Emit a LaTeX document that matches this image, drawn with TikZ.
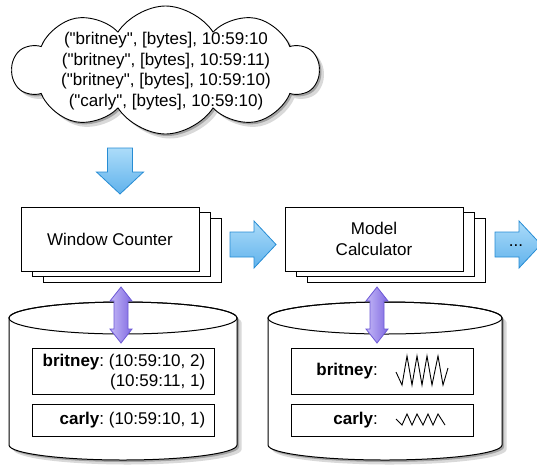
\documentclass[tikz,border=0pt]{standalone}
\usepackage{fontspec}
\newfontfamily\diagfont{Liberation Sans}
\usetikzlibrary{shapes.symbols,% cloud shape
calc,%                  coordinate arithmetic
shadows}%               drop shadows
\definecolor{flowline}{RGB}{38,140,212}
\definecolor{flowtop}{RGB}{172,220,249}
\definecolor{flowbottom}{RGB}{96,178,236}
\definecolor{syncline}{RGB}{108,88,214}
\definecolor{syncleft}{RGB}{196,184,246}
\definecolor{syncright}{RGB}{128,106,226}
\tikzset{every node/.style={font=\diagfont\fontsize{17}{20.5}\selectfont\frenchspacing}}
\tikzset{
  softshadow/.style={drop shadow={shadow xshift=2pt,shadow yshift=-2pt,opacity=0.25,fill=black},
    drop shadow={shadow xshift=4.5pt,shadow yshift=-4.5pt,opacity=0.15,fill=black}},
  srccloud/.style={cloud, cloud puffs=10, cloud puff arc=115, aspect=2.4, draw, fill=white,
    line width=0.9pt, minimum width=306pt, minimum height=128pt, softshadow},
  procbox/.style={draw, fill=white, line width=0.9pt, minimum width=178pt,
    minimum height=64pt, align=center, inner sep=0pt},
  storebox/.style={draw, fill=white, line width=0.9pt, minimum width=182pt},
  keylabel/.style={inner sep=0pt, anchor=east, align=right},
  dbbody/.style={draw, fill=white, line width=1pt, softshadow},
  flowarrow/.style={draw=flowline, line width=0.8pt, top color=flowtop, bottom color=flowbottom},
  syncarrow/.style={draw=syncline, line width=0.8pt, left color=syncleft, right color=syncright}
}
\newcommand{\flowarrow}[2]{% #1 = tail point, #2 = direction
  \begin{scope}[shift={#1},rotate=#2]
    \draw[flowarrow] (0,-12.5) -- (24,-12.5) -- (24,-23.5) -- (46,0) -- (24,23.5)
      -- (24,12.5) -- (0,12.5) -- cycle;
  \end{scope}}
\newcommand{\syncarrow}[1]{% #1 = upper tip
  \begin{scope}[shift={#1}]
    \draw[syncarrow] (0,0) -- (11,14) -- (7,14) -- (7,42) -- (11,42) -- (0,56)
      -- (-11,42) -- (-7,42) -- (-7,14) -- (-11,14) -- cycle;
  \end{scope}}
\begin{document}
\begin{tikzpicture}[x=1pt,y=-1pt]
  \useasboundingbox (0,0) rectangle (537,464);
  \clip (0,0) rectangle (537,464);
  % incoming tuples
  \node[srccloud] (src) at (165.5,70) {};
  \node[align=center] (srctext) at (166,71) {("britney", [bytes], 10:59:10\\
    ("britney", [bytes], 10:59:11)\\("britney", [bytes], 10:59:10)\\("carly", [bytes], 10:59:10)};
  \flowarrow{(120,148)}{-90}
  % processing stages
  \coordinate (wcpos) at (110,239);
  \coordinate (mcpos) at (374,239);
  \foreach \d in {2,1} {
    \node[procbox] (wc\d) at ([shift={(\d*11,\d*5.5)}]wcpos) {};
    \node[procbox] (mc\d) at ([shift={(\d*11,\d*5.5)}]mcpos) {};
  }
  \node[procbox] (wc) at (wcpos) {Window Counter};
  \node[procbox] (mc) at (mcpos) {Model\\Calculator};
  \flowarrow{(230,244.5)}{0}
  \flowarrow{(495,244.5)}{0}
  \node[inner sep=0pt] (more) at (516,246) {...};
  % count store
  \path[dbbody] (9,318) -- (9,445) arc[start angle=180, end angle=0, x radius=114, y radius=15]
    -- (237,318) arc[start angle=0, end angle=-180, x radius=114, y radius=16] -- cycle;
  \draw[line width=1pt] (123,318) ellipse[x radius=114, y radius=16];
  \node[storebox, minimum height=46pt] (wcb) at (123,371) {};
  \node[storebox, minimum height=32pt] (wcc) at (123,420) {};
  \node[keylabel] (wcbl) at ($(wcb.east)+(-9,1)$) {\textbf{britney}: (10:59:10, 2)\\(10:59:11, 1)};
  \node[keylabel] (wccl) at ($(wcc.east)+(-9,0)$) {\textbf{carly}: (10:59:10, 1)};
  \syncarrow{(121,287)}
  % model store
  \path[dbbody] (268,318) -- (268,445) arc[start angle=180, end angle=0, x radius=117, y radius=15]
    -- (502,318) arc[start angle=0, end angle=-180, x radius=117, y radius=16] -- cycle;
  \draw[line width=1pt] (385,318) ellipse[x radius=117, y radius=16];
  \node[storebox, minimum height=46pt] (mcb) at (382,371.5) {};
  \node[storebox, minimum height=32pt] (mcc) at (382,420) {};
  \node[keylabel] (mcbl) at ($(mcb.center)+(-4,0)$) {\textbf{britney}:};
  \node[keylabel] (mccl) at ($(mcc.center)+(-4,0)$) {\textbf{carly}:};
  \draw[line width=0.9pt] plot coordinates {(396,372) (402,385) (407,356) (412,385) (417,356)
    (422,385) (427,356) (432,385) (438,356) (443,385) (448,368)};
  \draw[line width=0.9pt] plot coordinates {(396,419) (402,425) (407,414) (412,425) (417,414)
    (423,425) (428,414) (433,425) (438,414) (445,425)};
  \syncarrow{(377,287)}
\end{tikzpicture}
\end{document}
